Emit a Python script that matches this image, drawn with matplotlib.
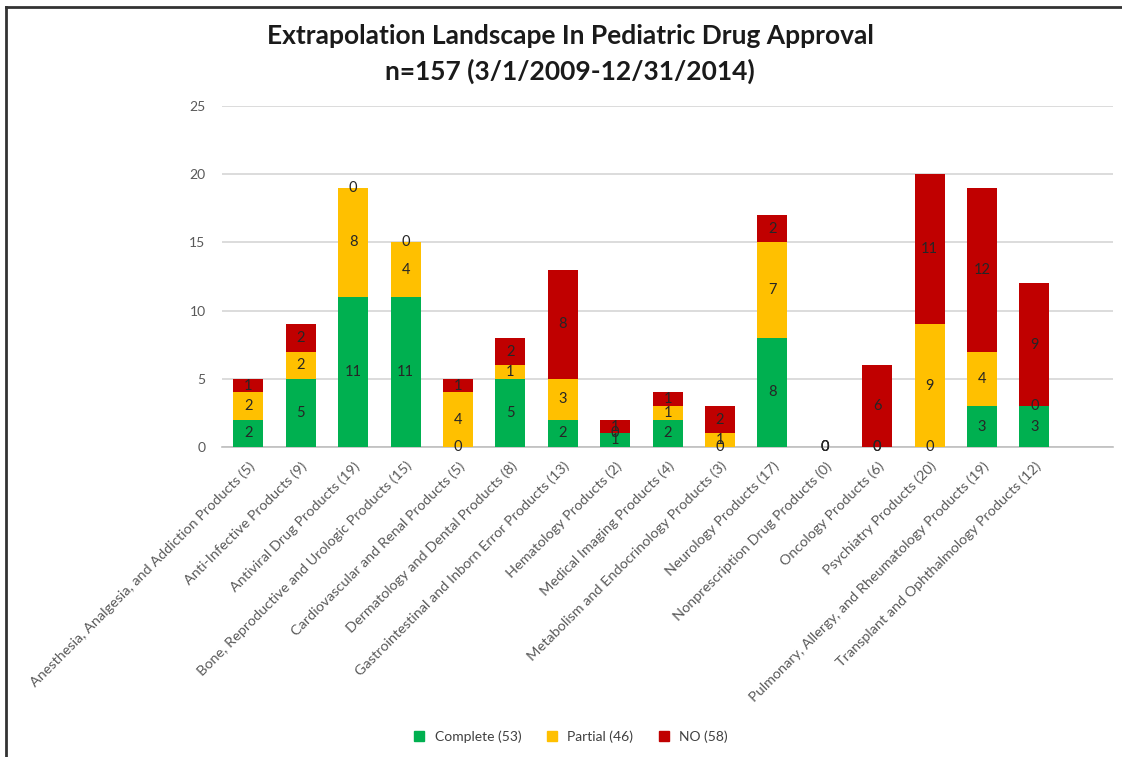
import matplotlib
matplotlib.use("Agg")
import matplotlib.pyplot as plt
from matplotlib.lines import Line2D
import numpy as np

plt.rcParams['font.family'] = ['Lato', 'DejaVu Sans']

categories = [
    "Anesthesia, Analgesia, and Addiction Products (5)",
    "Anti-Infective Products (9)",
    "Antiviral Drug Products (19)",
    "Bone, Reproductive and Urologic Products (15)",
    "Cardiovascular and Renal Products (5)",
    "Dermatology and Dental Products (8)",
    "Gastrointestinal and Inborn Error Products (13)",
    "Hematology Products (2)",
    "Medical Imaging Products (4)",
    "Metabolism and Endocrinology Products (3)",
    "Neurology Products (17)",
    "Nonprescription Drug Products (0)",
    "Oncology Products (6)",
    "Psychiatry Products (20)",
    "Pulmonary, Allergy, and Rheumatology Products (19)",
    "Transplant and Ophthalmology Products (12)",
]
complete = [2, 5, 11, 11, 0, 5, 2, 1, 2, 0, 8, 0, 0, 0, 3, 3]
partial = [2, 2, 8, 4, 4, 1, 3, 0, 1, 1, 7, 0, 0, 9, 4, 0]
no = [1, 2, 0, 0, 1, 2, 8, 1, 1, 2, 2, 0, 6, 11, 12, 9]

series_names = ["Complete (53)", "Partial (46)", "NO (58)"]
series_colors = ["#00B050", "#FFC000", "#C00000"]
yticks = [0, 5, 10, 15, 20, 25]

fig = plt.figure(figsize=(11.22, 7.57), dpi=100)
ax = fig.add_axes([0.198, 0.4095, 0.794, 0.4505])

x = np.arange(len(categories))
width = 0.57
bottom = np.zeros(len(categories))
for vals, name, color in zip([complete, partial, no], series_names, series_colors):
    vals = np.array(vals, dtype=float)
    ax.bar(x, vals, width, bottom=bottom, color=color, label=name,
           zorder=3, linewidth=0)
    for xi, b, v in zip(x, bottom, vals):
        ax.text(xi, b + v / 2, f"{int(v)}", ha="center", va="center",
                fontsize=10.5, color="#262626", zorder=4)
    bottom += vals

ax.set_xlim(-0.5, len(categories) + 0.5)
ax.set_ylim(0, 25)
ax.set_yticks(yticks)
ax.set_yticklabels([str(t) for t in yticks], fontsize=10, color="#595959")
ax.yaxis.grid(True, color="#D9D9D9", linewidth=1.3, zorder=0)
ax.set_axisbelow(True)
ax.tick_params(axis="both", length=0)
ax.tick_params(axis="y", pad=12)
ax.tick_params(axis="x", pad=9)
for side in ["top", "right", "left"]:
    ax.spines[side].set_visible(False)
ax.spines["bottom"].set_color("#BFBFBF")
ax.spines["bottom"].set_linewidth(1.2)

ax.set_xticks(x)
ax.set_xticklabels(categories, rotation=45, ha="right", rotation_mode="anchor",
                   fontsize=10.4, color="#595959")

fig.text(0.508, 0.953, "Extrapolation Landscape In Pediatric Drug Approval",
         ha="center", va="center", fontsize=19, fontweight="bold", color="#1a1a1a")
fig.text(0.508, 0.906, "n=157 (3/1/2009-12/31/2014)",
         ha="center", va="center", fontsize=19, fontweight="bold", color="#1a1a1a")

legend_handles = [Line2D([0], [0], marker="s", linestyle="none", markersize=7,
                         markerfacecolor=c, markeredgecolor=c)
                  for c in series_colors]
fig.legend(legend_handles, series_names, loc="center", bbox_to_anchor=(0.505, 0.027),
           ncol=3, frameon=False, fontsize=10, handletextpad=0.1,
           columnspacing=1.2, labelcolor="#404040")

# outer frame (top and left edges)
fig.add_artist(Line2D([0.005, 1.0], [0.991, 0.991], transform=fig.transFigure,
                      color="#333333", linewidth=2))
fig.add_artist(Line2D([0.0055, 0.0055], [0.0, 0.991], transform=fig.transFigure,
                      color="#333333", linewidth=2))

fig.savefig("out.png", dpi=100)
